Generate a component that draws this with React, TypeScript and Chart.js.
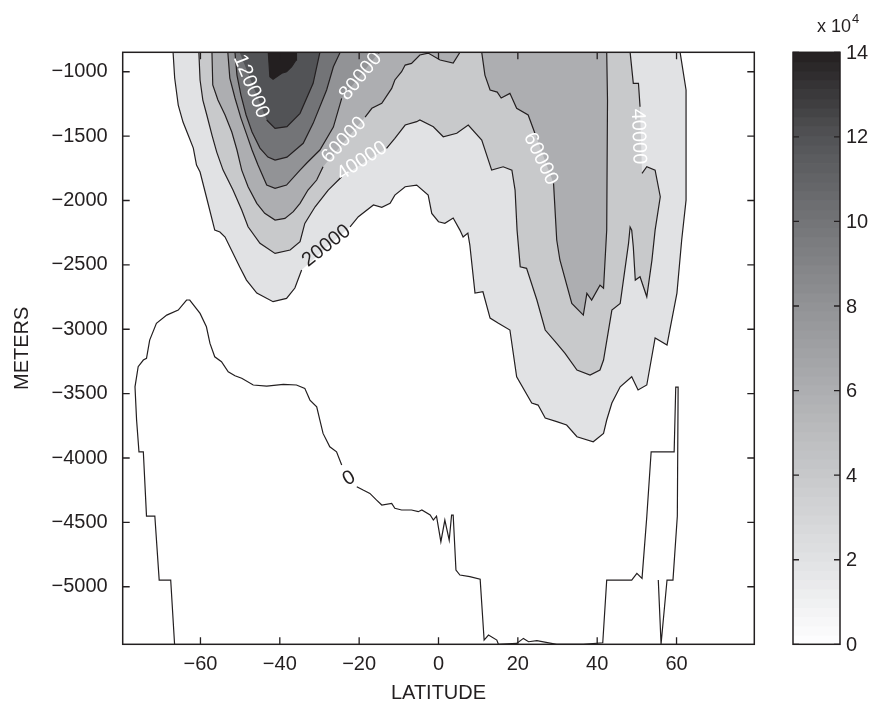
import React, { useEffect, useRef } from 'react';
import { Chart, registerables } from 'chart.js';

Chart.register(...registerables);

// ---------------- data ----------------
const contourLevels = [20000, 40000, 60000, 80000, 100000, 120000, 140000];
const latTicks = [-60, -40, -20, 0, 20, 40, 60];
const depthTicks = [-5000, -4500, -4000, -3500, -3000, -2500, -2000, -1500, -1000];
const colorbarTicks = [0, 2, 4, 6, 8, 10, 12, 14];
const latRange = [-79.6, 79.6];
const depthRange = [-5447, -849];
const colorbarRange = [0, 14];

type Pt = [number, number];

const contour20000: Pt[] = [
  [-66.9, -700], [-66.9, -850], [-66.5, -1049], [-65.6, -1259], [-64.4, -1391], [-63.1, -1492],
  [-61.8, -1593], [-61.0, -1725], [-60.1, -1779], [-58.5, -1973], [-56.4, -2230], [-55.1, -2245],
  [-53.8, -2284], [-50.1, -2517], [-48.4, -2618], [-45.8, -2719], [-41.7, -2786], [-38.3, -2760],
  [-36.2, -2680], [-34.5, -2540], [-22.3, -2204], [-20.2, -2126], [-16.4, -2035], [-14.3, -2053],
  [-12.2, -2022], [-11.0, -1958], [-8.4, -1893], [-5.5, -1880], [-2.6, -1958], [-1.7, -2100],
  [0.0, -2165], [1.6, -2177], [3.7, -2136], [5.4, -2230], [6.2, -2284], [7.4, -2253], [7.9, -2346],
  [9.2, -2719], [11.2, -2709], [13.0, -2913], [15.0, -2952], [18.0, -3006], [19.7, -3369],
  [23.5, -3573], [25.1, -3589], [26.9, -3690], [29.8, -3718], [32.3, -3744], [34.9, -3835],
  [39.0, -3874], [41.6, -3809], [42.4, -3705], [43.7, -3573], [45.8, -3447], [48.7, -3369],
  [50.3, -3472], [52.5, -3433], [54.6, -3068], [57.6, -3123], [58.4, -2991], [60.1, -2719],
  [61.3, -2307], [62.4, -1997], [62.4, -1142], [60.9, -850], [60.9, -700],
];

const contour40000: Pt[] = [
  [-60.4, -700], [-60.4, -850], [-60.1, -1064], [-59.4, -1220], [-58.4, -1336], [-57.1, -1492],
  [-55.9, -1624], [-54.3, -1764], [-51.8, -1919], [-49.6, -2074], [-48.0, -2204], [-45.0, -2333],
  [-41.2, -2411], [-37.4, -2385], [-34.9, -2320], [-33.7, -2178], [-31.1, -2049], [-27.8, -1919],
  [-24.4, -1816], [-13.1, -1595], [-11.0, -1517], [-8.4, -1414], [-5.5, -1388], [-4.7, -1375],
  [-1.3, -1427], [1.2, -1505], [4.6, -1478], [7.5, -1414], [10.9, -1530], [13.4, -1764],
  [16.3, -1738], [18.5, -1764], [19.3, -1919], [19.8, -2230], [20.6, -2515], [22.2, -2527],
  [24.8, -2773], [26.9, -3006], [29.8, -3110], [31.9, -3187], [34.9, -3317], [38.2, -3356],
  [40.7, -3317], [41.6, -3239], [43.7, -2851], [45.8, -2799], [47.9, -2333], [48.3, -2206],
  [48.7, -2230], [49.1, -2359], [49.6, -2618], [50.8, -2592], [52.5, -2748], [53.8, -2463],
  [54.6, -2230], [55.9, -1971], [54.6, -1764], [52.5, -1738], [51.3, -1789], [50.8, -1272],
  [50.4, -1090], [49.1, -1090], [48.3, -850], [48.3, -700],
];

const contour60000: Pt[] = [
  [-57.1, -700], [-57.1, -850], [-56.9, -1103], [-55.6, -1220], [-53.8, -1336], [-52.1, -1468],
  [-50.8, -1608], [-49.6, -1764], [-48.0, -1893], [-45.8, -2022], [-43.8, -2100], [-41.2, -2152],
  [-38.7, -2139], [-36.6, -2087], [-34.9, -2022], [-32.9, -1919], [-30.7, -1841], [-29.1, -1738],
  [-18.5, -1352], [-16.8, -1284], [-14.3, -1245], [-11.8, -1129], [-11.0, -1064], [-9.3, -1000],
  [-8.4, -948], [-6.8, -935], [-4.7, -870], [-2.6, -855], [0.4, -909], [3.7, -932], [5.4, -850],
  [5.4, -700], [10.9, -700], [10.9, -850], [11.7, -1026], [13.0, -1142], [14.8, -1158],
  [15.8, -1204], [18.0, -1168], [19.7, -1284], [22.6, -1336], [24.3, -1478], [29.0, -1867],
  [29.8, -2307], [30.6, -2462], [33.6, -2799], [36.5, -2890], [37.4, -2721], [38.6, -2773],
  [40.7, -2657], [41.6, -2682], [42.4, -2230], [42.6, -1220], [42.4, -850], [42.4, -700],
];

const contour80000: Pt[] = [
  [-53.1, -700], [-53.1, -850], [-52.6, -1049], [-51.3, -1204], [-49.8, -1360], [-48.3, -1492],
  [-47.0, -1608], [-45.5, -1725], [-43.3, -1880], [-41.2, -1906], [-38.3, -1880], [-34.9, -1764],
  [-33.2, -1709], [-29.9, -1608], [-26.5, -1430], [-24.4, -1207], [-15.2, -857], [-14.8, -850],
  [-14.8, -700],
];

const contour100000: Pt[] = [
  [-51.3, -700], [-51.3, -850], [-50.8, -1026], [-49.8, -1181], [-48.5, -1336], [-47.0, -1468],
  [-45.0, -1593], [-43.0, -1663], [-41.2, -1686], [-38.2, -1663], [-34.1, -1556], [-31.6, -1401],
  [-28.2, -1142], [-26.5, -961], [-24.8, -850], [-24.8, -700],
];

const contour120000: Pt[] = [
  [-50.1, -700], [-50.1, -850], [-43.3, -1375], [-41.2, -1440], [-38.2, -1427], [-34.9, -1323],
  [-31.6, -1090], [-29.9, -850], [-29.9, -700],
];

const contour140000: Pt[] = [
  [-42.9, -700], [-42.9, -850], [-42.5, -1039], [-41.7, -1059], [-39.5, -1012], [-38.3, -1000],
  [-37.0, -961], [-35.9, -909], [-35.8, -850], [-35.8, -700],
];

const contour0: Pt[] = [
  [-66.5, -5460], [-67.5, -4948], [-70.4, -4948], [-71.5, -4451], [-73.6, -4451], [-74.4, -3952],
  [-75.5, -3952], [-76.1, -3705], [-76.5, -3447], [-75.7, -3291], [-74.4, -3239], [-73.6, -3226],
  [-72.8, -3084], [-71.1, -2954], [-68.5, -2890], [-65.6, -2851], [-63.5, -2773], [-62.7, -2773],
  [-60.1, -2877], [-58.5, -2981], [-57.6, -3110], [-56.4, -3214], [-54.7, -3252], [-53.0, -3330],
  [-51.3, -3361], [-49.6, -3381], [-46.7, -3433], [-43.3, -3441], [-39.1, -3428], [-35.8, -3433],
  [-33.7, -3459], [-32.4, -3550], [-30.7, -3602], [-29.9, -3705], [-29.1, -3809], [-27.4, -3913],
  [-25.7, -3952], [-24.4, -4055], [-21.5, -4197], [-20.6, -4223], [-19.0, -4249], [-17.3, -4275],
  [-15.6, -4327], [-14.3, -4365], [-11.8, -4352], [-11.0, -4391], [-9.3, -4404], [-6.8, -4404],
  [-5.1, -4417], [-4.2, -4404], [-2.1, -4443], [-1.3, -4482], [-0.5, -4451], [0.6, -4650],
  [1.6, -4482], [2.7, -4637], [3.3, -4443], [3.7, -4443], [4.4, -4870], [5.4, -4909], [7.9, -4922],
  [10.5, -4942], [11.5, -5414], [12.6, -5375], [14.7, -5414], [15.1, -5447], [19.7, -5440],
  [21.4, -5401], [22.7, -5427], [24.8, -5419], [29.8, -5447], [36.5, -5447], [41.4, -5435],
  [42.4, -4948], [48.7, -4948], [50.0, -4896], [51.3, -4935], [52.5, -4456], [53.6, -3952],
  [59.4, -3952], [59.8, -3449], [60.4, -3449], [60.2, -4451], [59.1, -4948], [57.6, -4948],
  [56.1, -5445], [55.4, -4948],
];

const filledContours: Pt[][] = [
  contour20000, contour40000, contour60000, contour80000, contour100000, contour120000, contour140000,
];

const labelTexts = ['120000', '80000', '60000', '40000', '20000', '60000', '40000', '0'];
const labelLevels = [120000, 80000, 60000, 40000, 20000, 60000, 40000, 0];
const labelLats = [-47.0, -19.8, -24.0, -19.4, -28.4, 26.0, 50.6, -22.7];
const labelDepths = [-1111, -1030, -1527, -1686, -2346, -1673, -1503, -4152];
const labelAngles = [68, -51, -47, -33, -38, 64, 88, -30];

// gray colormap stops (value in units of 1e4)
const grayStops = [0, 2, 4, 6, 8, 10, 12, 14];
const grayColors = ['#ffffff', '#e1e2e4', '#c8c9cb', '#adaeb1', '#929396', '#737477', '#525356', '#231f20'];

// ---------------- helpers ----------------
const INK = '#231f20';
const FONT = '"Liberation Sans", Arial, Helvetica, sans-serif';
const TICK_FONT = 20;
const CLEAR = 'rgba(0,0,0,0)';

function hexToRgb(h: string): number[] {
  const n = parseInt(h.slice(1), 16);
  return [(n >> 16) & 255, (n >> 8) & 255, n & 255];
}

function cmap(v: number): string {
  if (v <= grayStops[0]) return grayColors[0];
  const last = grayStops.length - 1;
  if (v >= grayStops[last]) return grayColors[last];
  let i = 0;
  while (i < last - 1 && v > grayStops[i + 1]) i++;
  const t = (v - grayStops[i]) / (grayStops[i + 1] - grayStops[i]);
  const a = hexToRgb(grayColors[i]);
  const b = hexToRgb(grayColors[i + 1]);
  const c = a.map((x, k) => Math.round(x + (b[k] - x) * t));
  return `rgb(${c[0]},${c[1]},${c[2]})`;
}

const fmt = (v: number) => (v < 0 ? '\u2212' + Math.abs(v) : String(v));

export default function App() {
  const ref = useRef<HTMLCanvasElement>(null);

  useEffect(() => {
    const canvas = ref.current;
    if (!canvas) return;

    const labelPx: { x: number; y: number; level: number }[] = [];

    const hidden = (c: any, level: number) => {
      const mx = (c.p0.x + c.p1.x) / 2;
      const my = (c.p0.y + c.p1.y) / 2;
      for (const l of labelPx) {
        if (l.level === level && Math.hypot(mx - l.x, my - l.y) < 10) return true;
      }
      return false;
    };

    const toXY = (pts: Pt[]) => pts.map(([x, y]) => ({ x, y }));

    // filled bands (no outline)
    const fills: any[] = filledContours.map((pts, i) => ({
      type: 'line',
      label: 'fill ' + contourLevels[i],
      data: toXY(pts),
      fill: 'shape',
      backgroundColor: cmap(contourLevels[i] / 1e4),
      borderColor: CLEAR,
      borderWidth: 0,
      pointRadius: 0,
      tension: 0,
      order: 40 - i,
    }));

    // contour lines (broken where labels sit)
    const lines: any[] = [...filledContours, contour0].map((pts, i) => {
      const level = i < contourLevels.length ? contourLevels[i] : 0;
      return {
        type: 'line',
        label: 'line ' + level,
        data: toXY(pts),
        fill: false,
        borderColor: INK,
        borderWidth: 1.2,
        pointRadius: 0,
        tension: 0,
        order: 10 - i,
        segment: {
          borderColor: (c: any) => (hidden(c, level) ? CLEAR : undefined),
        },
      };
    });

    const decor = {
      id: 'decor',
      afterLayout(chart: any) {
        const xs = chart.scales.x;
        const ys = chart.scales.y;
        labelPx.length = 0;
        labelTexts.forEach((_, i) => {
          labelPx.push({
            x: xs.getPixelForValue(labelLats[i]),
            y: ys.getPixelForValue(labelDepths[i]),
            level: labelLevels[i],
          });
        });
      },
      afterDatasetsDraw(chart: any) {
        const { ctx } = chart;
        const xs = chart.scales.x;
        const ys = chart.scales.y;
        ctx.save();
        ctx.font = `${TICK_FONT}px ${FONT}`;
        ctx.textAlign = 'center';
        ctx.textBaseline = 'middle';
        labelTexts.forEach((t, i) => {
          const px = xs.getPixelForValue(labelLats[i]);
          const py = ys.getPixelForValue(labelDepths[i]);
          ctx.save();
          ctx.translate(px, py);
          ctx.rotate((labelAngles[i] * Math.PI) / 180);
          ctx.fillStyle = labelLevels[i] >= 40000 ? '#ffffff' : INK;
          ctx.fillText(t, 0, 1);
          ctx.restore();
        });
        ctx.restore();
      },
      afterDraw(chart: any) {
        const { ctx, chartArea: a } = chart;
        const xs = chart.scales.x;
        const ys = chart.scales.y;
        const cb = chart.scales.cb;
        const T = 7;
        ctx.save();
        ctx.strokeStyle = INK;
        ctx.lineWidth = 1.3;
        ctx.beginPath();
        for (const v of latTicks) {
          const px = xs.getPixelForValue(v);
          ctx.moveTo(px, a.bottom);
          ctx.lineTo(px, a.bottom - T);
          ctx.moveTo(px, a.top);
          ctx.lineTo(px, a.top + T);
        }
        for (const v of depthTicks) {
          const py = ys.getPixelForValue(v);
          ctx.moveTo(a.left, py);
          ctx.lineTo(a.left + T, py);
          ctx.moveTo(a.right, py);
          ctx.lineTo(a.right - T, py);
        }
        ctx.stroke();
        ctx.lineWidth = 1.5;
        ctx.strokeRect(a.left, a.top, a.right - a.left, a.bottom - a.top);

        // colorbar
        const L = a.right + 38.7;
        const R = L + 47;
        const n = 64;
        const [c0, c1] = colorbarRange;
        for (let i = 0; i < n; i++) {
          const v0 = c0 + ((c1 - c0) * i) / n;
          const v1 = c0 + ((c1 - c0) * (i + 1)) / n;
          const y0 = cb.getPixelForValue(v0);
          const y1 = cb.getPixelForValue(v1);
          ctx.fillStyle = cmap((v0 + v1) / 2);
          ctx.fillRect(L, y1, R - L, y0 - y1 + 0.6);
        }
        ctx.lineWidth = 1.3;
        ctx.beginPath();
        for (const v of colorbarTicks) {
          const py = cb.getPixelForValue(v);
          ctx.moveTo(L, py);
          ctx.lineTo(L + 6, py);
          ctx.moveTo(R, py);
          ctx.lineTo(R - 6, py);
        }
        ctx.stroke();
        ctx.lineWidth = 1.5;
        ctx.strokeRect(L, cb.top, R - L, cb.bottom - cb.top);

        // colorbar tick labels
        ctx.fillStyle = INK;
        ctx.font = `${TICK_FONT}px ${FONT}`;
        ctx.textAlign = 'left';
        ctx.textBaseline = 'middle';
        for (const v of colorbarTicks) {
          ctx.fillText(String(v), R + 6, cb.getPixelForValue(v) + 1);
        }

        // exponent label
        ctx.textBaseline = 'alphabetic';
        ctx.font = `18px ${FONT}`;
        const base = 'x 10';
        ctx.fillText(base, R - 23, a.top - 20);
        const w = ctx.measureText(base).width;
        ctx.font = `13px ${FONT}`;
        ctx.fillText('4', R - 23 + w + 1, a.top - 29);
        ctx.restore();
      },
    };

    const tickFont = { family: FONT, size: TICK_FONT };

    const chart = new Chart(canvas, {
      type: 'line',
      data: { datasets: [...fills, ...lines] },
      options: {
        responsive: false,
        maintainAspectRatio: false,
        animation: false,
        events: [],
        layout: { padding: { top: 52.3, left: 0, right: 0, bottom: 0 } },
        plugins: { legend: { display: false }, tooltip: { enabled: false } },
        scales: {
          x: {
            type: 'linear',
            min: latRange[0],
            max: latRange[1],
            afterBuildTicks: (s: any) => {
              s.ticks = latTicks.map((v) => ({ value: v }));
            },
            afterFit: (s: any) => {
              s.height = 66.7;
            },
            grid: { display: false, drawTicks: false },
            border: { display: false },
            ticks: {
              font: tickFont,
              color: INK,
              padding: 8,
              maxRotation: 0,
              autoSkip: false,
              callback: (v: any) => fmt(Number(v)),
            },
            title: {
              display: true,
              text: 'LATITUDE',
              font: tickFont,
              color: INK,
              padding: { top: 0, bottom: 6 },
            },
          },
          y: {
            type: 'linear',
            min: depthRange[0],
            max: depthRange[1],
            afterBuildTicks: (s: any) => {
              s.ticks = depthTicks.map((v) => ({ value: v }));
            },
            afterFit: (s: any) => {
              s.width = 122.7;
            },
            grid: { display: false, drawTicks: false },
            border: { display: false },
            ticks: {
              font: tickFont,
              color: INK,
              padding: 15,
              autoSkip: false,
              callback: (v: any) => fmt(Number(v)),
            },
            title: {
              display: true,
              text: 'METERS',
              font: tickFont,
              color: INK,
              padding: { top: 10, bottom: 0 },
            },
          },
          cb: {
            type: 'linear',
            axis: 'y',
            position: 'right',
            min: colorbarRange[0],
            max: colorbarRange[1],
            afterBuildTicks: (s: any) => {
              s.ticks = colorbarTicks.map((v) => ({ value: v }));
            },
            afterFit: (s: any) => {
              s.width = 124.7;
            },
            grid: { display: false, drawTicks: false },
            border: { display: false },
            ticks: { display: false, padding: 0 },
          },
        },
      } as any,
      plugins: [decor],
    });

    return () => chart.destroy();
  }, []);

  return (
    <div style={{ position: 'fixed', left: 0, top: 0, width: 879, height: 711, background: '#ffffff' }}>
      <canvas ref={ref} width={879} height={711} style={{ width: 879, height: 711, display: 'block' }} />
    </div>
  );
}
